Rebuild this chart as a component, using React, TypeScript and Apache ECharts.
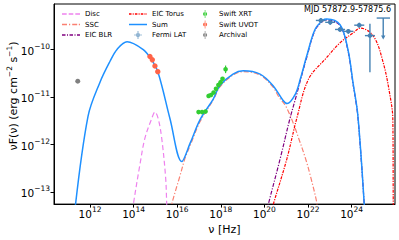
import React, { useEffect, useRef } from 'react';
import * as echarts from 'echarts';

// All values are log10(nu [Hz]) and log10(nuF(nu) [erg cm^-2 s^-1])
const xTicks = [12, 14, 16, 18, 20, 22, 24];
const yTicks = [-13, -12, -11, -10];

const discCurve: [number, number][] = [
  [13.96, -13.4], [13.99, -13.26], [14.29, -12.43], [14.52, -11.87], [14.83, -11.46],
  [14.98, -11.32], [15.13, -11.46], [15.29, -11.87], [15.47, -12.7], [15.52, -13.26], [15.53, -13.4],
];
const sscCurve: [number, number][] = [
  [15.72, -13.4], [15.75, -13.26], [16.13, -12.66], [16.36, -12.29], [16.59, -12.03],
  [17.05, -11.52], [17.66, -11.06], [17.96, -10.79], [18.56, -10.54], [19.03, -10.47],
  [19.8, -10.54], [20.39, -10.79], [20.66, -11.0], [20.96, -11.18], [21.27, -11.49],
  [21.57, -11.87], [21.88, -12.29], [22.09, -12.63], [22.4, -13.22], [22.43, -13.4],
];
const blrCurve: [number, number][] = [
  [20.11, -13.4], [20.18, -13.26], [20.73, -12.29], [21.17, -11.46], [21.48, -10.95],
  [21.65, -10.65], [21.94, -10.17], [22.32, -9.6], [22.69, -9.4], [22.86, -9.38],
  [23.47, -9.5], [23.83, -10.02], [24.06, -10.71], [24.29, -11.43], [24.61, -13.5],
];
const torusCurve: [number, number][] = [
  [20.33, -13.4], [20.41, -13.26], [21.04, -12.29], [21.48, -11.46], [22.03, -10.62],
  [22.86, -10.17], [23.47, -9.86], [24.08, -9.65], [24.39, -9.55], [25.0, -9.72],
  [25.45, -10.28], [25.76, -10.97], [25.89, -11.46], [25.91, -13.26], [25.92, -13.4],
];
const sumCurve: [number, number][] = [
  [11.28, -13.5], [11.91, -11.41], [12.46, -10.69], [12.92, -10.25], [13.24, -10.0],
  [13.7, -9.84], [14.43, -10.0], [14.8, -10.2], [15.12, -10.48], [15.67, -11.46],
  [16.21, -12.36], [16.59, -11.98], [17.05, -11.48], [17.66, -11.04], [17.96, -10.76],
  [18.56, -10.52], [19.03, -10.45], [19.8, -10.52], [20.39, -10.76], [20.85, -11.07],
  [21.04, -11.14], [21.42, -10.94], [21.65, -10.62], [21.94, -10.14], [22.32, -9.58],
  [22.69, -9.38], [22.86, -9.36], [23.47, -9.48], [23.83, -10.0], [24.06, -10.69],
  [24.29, -11.41], [24.61, -13.5],
];

// [logNu, logF, logNuLow, logNuHigh, logFLow, logFHigh, upperLimit]
const fermiData: number[][] = [
  [22.59, -9.39, 22.36, 22.82, -9.44, -9.34, 0],
  [23.02, -9.43, 22.79, 23.25, -9.48, -9.38, 0],
  [23.47, -9.58, 23.24, 23.7, -9.63, -9.53, 0],
  [23.85, -9.62, 23.62, 24.08, -9.67, -9.57, 0],
  [24.35, -9.49, 24.12, 24.58, -9.54, -9.44, 0],
  [24.84, -9.71, 24.61, 25.07, -10.48, -9.46, 0],
  [25.45, -9.34, 25.15, 25.76, -9.79, -9.34, 1],
];
const xrtData: number[][] = [
  [16.98, -11.32, 16.91, 17.05, -11.35, -11.29, 0],
  [17.14, -11.32, 17.07, 17.21, -11.35, -11.29, 0],
  [17.3, -11.31, 17.23, 17.37, -11.34, -11.28, 0],
  [17.44, -10.98, 17.38, 17.5, -11.01, -10.95, 0],
  [17.55, -10.96, 17.49, 17.61, -10.99, -10.93, 0],
  [17.67, -10.91, 17.61, 17.73, -10.94, -10.88, 0],
  [17.78, -10.83, 17.72, 17.84, -10.86, -10.8, 0],
  [17.89, -10.75, 17.83, 17.95, -10.78, -10.72, 0],
  [17.99, -10.69, 17.93, 18.05, -10.72, -10.66, 0],
  [18.08, -10.62, 18.02, 18.14, -10.65, -10.59, 0],
  [18.22, -10.42, 18.17, 18.27, -10.5, -10.34, 0],
];
const uvotData: number[][] = [
  [14.75, -10.15, 14.75, 14.75, -10.17, -10.13, 0],
  [14.86, -10.22, 14.86, 14.86, -10.24, -10.2, 0],
  [14.98, -10.35, 14.98, 14.98, -10.37, -10.33, 0],
  [15.11, -10.47, 15.11, 15.11, -10.49, -10.45, 0],
];
const archivalData: number[][] = [
  [11.44, -10.67, 11.44, 11.44, -10.69, -10.65, 0],
];

const FONT = 'DejaVu Sans';
const C = {
  disc: '#ee82ee', ssc: '#fa8072', blr: '#800080', torus: '#ff0000', sum: '#1e90ff',
  fermi: '#4682b4', xrt: '#32cd32', uvot: '#ff6347', arch: '#808080',
};

// legend glyphs (dash patterns drawn as filled segments)
function segs(list: [number, number][], h: number) {
  return 'path://' + list.map(([a, b]) => `M${a},0 L${b},0 L${b},${h} L${a},${h} Z`).join(' ');
}
const discIcon = segs([[0, 4.7], [6.7, 11.3], [13.3, 18]], 1.3);
const sscIcon = segs([[0, 5], [7, 8.2], [10.2, 15.2], [16.8, 18]], 1.3);
const blrIcon = segs([[0, 3.5], [5, 6], [7.5, 11], [12.5, 13.5], [15, 18]], 1.3);
const torusIcon = segs([[0, 2.5], [3.7, 4.7], [5.9, 8.4], [9.6, 10.6], [11.8, 14.3], [15.5, 16.5], [17.5, 18]], 1.3);
const sumIcon = segs([[0, 18]], 1.5);
const dotBarIcon = 'path://M4.6,0 L5.4,0 L5.4,10 L4.6,10 Z M2.4,5 A2.6,2.6 0 1,0 7.6,5 A2.6,2.6 0 1,0 2.4,5 Z';
const crossIcon = 'path://M4.6,0 L5.4,0 L5.4,10 L4.6,10 Z M0,4.6 L10,4.6 L10,5.4 L0,5.4 Z M2.6,5 A2.4,2.4 0 1,0 7.4,5 A2.4,2.4 0 1,0 2.6,5 Z';

function errRender(color: string, r: number, lw: number) {
  return (_params: any, api: any) => {
    const x = api.value(0), y = api.value(1);
    const xlo = api.value(2), xhi = api.value(3), ylo = api.value(4), yhi = api.value(5);
    const ul = api.value(6);
    const c = api.coord([x, y]);
    const l = api.coord([xlo, y]);
    const rr = api.coord([xhi, y]);
    const b = api.coord([x, ylo]);
    const t = api.coord([x, yhi]);
    const ls = { stroke: color, lineWidth: lw };
    const children: any[] = [];
    if (xhi > xlo) children.push({ type: 'line', shape: { x1: l[0], y1: l[1], x2: rr[0], y2: rr[1] }, style: ls });
    if (ul) {
      children.push({ type: 'line', shape: { x1: c[0], y1: c[1], x2: b[0], y2: b[1] - 3 }, style: ls });
      children.push({ type: 'polygon', shape: { points: [[b[0] - 2.2, b[1] - 4], [b[0] + 2.2, b[1] - 4], [b[0], b[1]]] }, style: { fill: color } });
    } else {
      if (yhi > ylo) children.push({ type: 'line', shape: { x1: b[0], y1: b[1], x2: t[0], y2: t[1] }, style: ls });
      children.push({ type: 'circle', shape: { cx: c[0], cy: c[1], r }, style: { fill: color } });
    }
    return { type: 'group', children };
  };
}

function lineSeries(name: string, data: [number, number][], color: string, type: any, width: number) {
  return {
    name, type: 'line', data, showSymbol: false, symbol: 'none', smooth: 0.35, clip: true,
    lineStyle: { color, type, width }, itemStyle: { color }, z: 2,
  };
}

function errSeries(name: string, data: number[][], color: string, r: number, lw: number) {
  return {
    name, type: 'custom', data, renderItem: errRender(color, r, lw),
    encode: { x: 0, y: 1 }, itemStyle: { color }, z: 5,
  };
}

const supRich = {
  b: { fontSize: 10.5, lineHeight: 14, verticalAlign: 'bottom', fontFamily: FONT, color: '#000' },
  s: { fontSize: 7.5, lineHeight: 7, verticalAlign: 'top', fontFamily: FONT, color: '#000' },
};

const legendBase = {
  orient: 'vertical', padding: 0, itemWidth: 18, itemHeight: 8, itemGap: 2.5, top: 10,
  textStyle: { fontSize: 7, fontFamily: FONT, color: '#000', lineHeight: 8 },
  selectedMode: false,
};

export default function App() {
  const ref = useRef<HTMLDivElement>(null);
  useEffect(() => {
    document.body.style.margin = '0';
    const chart = echarts.init(ref.current!, null, { renderer: 'svg' });
    chart.setOption({
      animation: false,
      textStyle: { fontFamily: FONT },
      grid: { left: 54, right: 4, top: 4, bottom: 33, show: true, borderColor: '#000', borderWidth: 1 },
      xAxis: {
        type: 'value', min: 10.35, max: 25.99,
        name: 'ν [Hz]', nameLocation: 'middle', nameGap: 17,
        nameTextStyle: { fontSize: 11, fontFamily: FONT, color: '#000' },
        axisLine: { show: true, lineStyle: { color: '#000', width: 1 } },
        axisTick: { show: true, inside: false, length: 3.5, customValues: xTicks, lineStyle: { color: '#000' } },
        axisLabel: { customValues: xTicks, margin: 1, formatter: (v: number) => `{b|10}{s|${Math.round(v)}}`, rich: supRich },
        splitLine: { show: false },
      },
      yAxis: {
        type: 'value', min: -13.258, max: -9.044,
        axisLine: { show: true, lineStyle: { color: '#000', width: 1 } },
        axisTick: { show: true, inside: false, length: 3.5, customValues: yTicks, lineStyle: { color: '#000' } },
        axisLabel: { customValues: yTicks, margin: 4, formatter: (v: number) => `{b|10}{s|−${Math.abs(Math.round(v))}}`, rich: supRich },
        splitLine: { show: false },
      },
      legend: [
        { ...legendBase, left: 62, data: [
          { name: 'Disc', icon: discIcon }, { name: 'SSC', icon: sscIcon }, { name: 'EIC BLR', icon: blrIcon },
        ] },
        { ...legendBase, left: 129, data: [
          { name: 'EIC Torus', icon: torusIcon }, { name: 'Sum', icon: sumIcon }, { name: 'Fermi LAT', icon: crossIcon },
        ] },
        { ...legendBase, left: 203, data: [
          { name: 'Swift XRT', icon: dotBarIcon }, { name: 'Swift UVOT', icon: dotBarIcon }, { name: 'Archival', icon: dotBarIcon },
        ] },
      ],
      graphic: [
        {
          type: 'text', x: 12, y: 96, rotation: Math.PI / 2,
          style: {
            text: '{a|νF(ν) (erg cm}{s|−2}{a| s}{s|−1}{a|)}',
            align: 'center', verticalAlign: 'middle',
            rich: {
              a: { fontSize: 11, lineHeight: 14, verticalAlign: 'bottom', fontFamily: FONT, fill: '#000' },
              s: { fontSize: 7.5, lineHeight: 7, verticalAlign: 'top', fontFamily: FONT, fill: '#000' },
            },
          },
        },
        {
          type: 'text', x: 391, y: 9,
          style: { text: 'MJD 57872.9-57875.6', align: 'right', verticalAlign: 'middle', fontSize: 8, fontFamily: FONT, fill: '#000' },
          z: 10,
        },
      ],
      series: [
        lineSeries('Disc', discCurve, C.disc, [5, 3], 1.2),
        lineSeries('SSC', sscCurve, C.ssc, [5, 2, 1.2, 2], 1.2),
        lineSeries('EIC BLR', blrCurve, C.blr, [4, 1.5, 1.2, 1.5], 1.2),
        lineSeries('EIC Torus', torusCurve, C.torus, [3, 1.2, 1.2, 1.2], 1.2),
        { ...lineSeries('Sum', sumCurve, C.sum, 'solid', 1.5), z: 3 },
        errSeries('Fermi LAT', fermiData, C.fermi, 2.3, 1.4),
        errSeries('Swift XRT', xrtData, C.xrt, 2.3, 1.2),
        errSeries('Swift UVOT', uvotData, C.uvot, 2.7, 1.0),
        errSeries('Archival', archivalData, C.arch, 2.5, 1.0),
      ],
    });
    return () => chart.dispose();
  }, []);
  return <div ref={ref} style={{ width: 399, height: 240 }} />;
}
